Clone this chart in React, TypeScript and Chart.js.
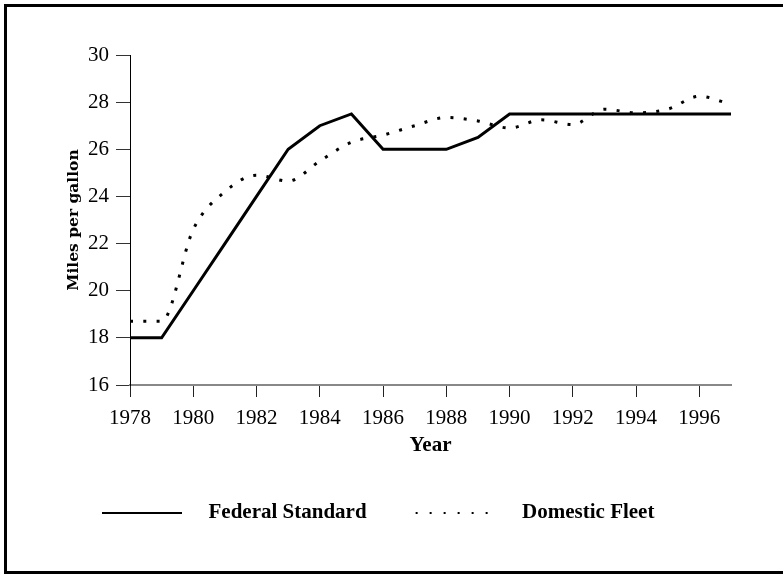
import React, { useEffect, useRef } from "react";
import { Chart, registerables } from "chart.js";

Chart.register(...registerables);

const years = [1978, 1979, 1980, 1981, 1982, 1983, 1984, 1985, 1986, 1987, 1988, 1989, 1990, 1991, 1992, 1993, 1994, 1995, 1996, 1997];
const federalStandard = [18, 18, 20, 22, 24, 26, 27, 27.5, 26, 26, 26, 26.5, 27.5, 27.5, 27.5, 27.5, 27.5, 27.5, 27.5, 27.5];
const domesticFleet = [18.7, 18.7, 22.6, 24.2, 24.9, 24.65, 25.5, 26.3, 26.6, 27.0, 27.35, 27.2, 26.9, 27.25, 27.05, 27.7, 27.55, 27.7, 28.25, 27.9];
const xTickLabels = [1978, 1980, 1982, 1984, 1986, 1988, 1990, 1992, 1994, 1996];
const yTickLabels = [16, 18, 20, 22, 24, 26, 28, 30];
const seriesNames = ["Federal Standard", "Domestic Fleet"];

const SERIF = "'Liberation Serif', 'Times New Roman', serif";

function makeLegendSample(dotted: boolean): HTMLCanvasElement {
  const c = document.createElement("canvas");
  c.width = 101;
  c.height = 5;
  const ctx = c.getContext("2d")!;
  ctx.fillStyle = "#000";
  if (dotted) {
    for (let i = 0; i < 6; i++) ctx.fillRect(5 + i * 14, 2, 2, 2);
  } else {
    ctx.fillRect(5, 2, 80, 2);
  }
  return c;
}

const borderPlugin = {
  id: "frameBorder",
  beforeDraw(chart: any) {
    const ctx = chart.ctx;
    ctx.save();
    ctx.fillStyle = "#fff";
    ctx.fillRect(0, 0, chart.width, chart.height);
    ctx.strokeStyle = "#000";
    ctx.lineWidth = 3;
    ctx.strokeRect(5.5, 5.5, 783, 567);
    ctx.restore();
  },
};

export default function App() {
  const ref = useRef<HTMLCanvasElement>(null);
  useEffect(() => {
    document.body.style.margin = "0";
    const samples = [makeLegendSample(false), makeLegendSample(true)];
    Chart.defaults.font.family = SERIF;
    Chart.defaults.color = "#000";
    const chart = new Chart(ref.current!, {
      type: "line",
      data: {
        datasets: [
          {
            label: seriesNames[0],
            data: years.map((x, i) => ({ x, y: federalStandard[i] })),
            borderColor: "#000",
            borderWidth: 3,
            pointRadius: 0,
            tension: 0,
            fill: false,
          },
          {
            label: seriesNames[1],
            data: years.map((x, i) => ({ x, y: domesticFleet[i] })),
            borderColor: "#000",
            borderWidth: 3,
            borderDash: [3, 10.3],
            pointRadius: 0,
            cubicInterpolationMode: "monotone",
            fill: false,
          },
        ],
      },
      options: {
        responsive: false,
        animation: false,
        events: [],
        layout: { padding: { left: 53, right: 52, top: 55, bottom: 41 } },
        plugins: {
          tooltip: { enabled: false },
          legend: {
            position: "bottom",
            align: "start",
            labels: {
              usePointStyle: true,
              pointStyleWidth: 101,
              padding: 44,
              color: "#000",
              font: { family: SERIF, size: 21, weight: "bold" },
              generateLabels: (ch: any) =>
                ch.data.datasets.map((ds: any, i: number) => ({
                  text: ds.label,
                  pointStyle: samples[i],
                  fillStyle: "transparent",
                  strokeStyle: "transparent",
                  lineWidth: 0,
                  hidden: false,
                  datasetIndex: i,
                  fontColor: "#000",
                })),
            },
          },
        },
        scales: {
          x: {
            type: "linear",
            min: years[0],
            max: years[years.length - 1],
            afterBuildTicks: (s: any) => {
              s.ticks = xTickLabels.map((v) => ({ value: v }));
            },
            afterFit: (s: any) => {
              s.height = 73;
            },
            ticks: {
              font: { family: SERIF, size: 21 },
              color: "#000",
              padding: 9,
              maxRotation: 0,
              autoSkip: false,
              callback: (v: any) => String(v),
            },
            grid: { display: true, drawOnChartArea: false, drawTicks: true, tickLength: 12, color: "#222", lineWidth: 1 },
            border: { display: true, color: "#888", width: 2 },
            title: { display: true, text: "Year", font: { family: SERIF, size: 21, weight: "bold" }, color: "#000", padding: 0 },
          },
          y: {
            type: "linear",
            min: 16,
            max: 30,
            afterBuildTicks: (s: any) => {
              s.ticks = yTickLabels.map((v) => ({ value: v }));
            },
            afterFit: (s: any) => {
              s.width = 77;
            },
            ticks: { font: { family: SERIF, size: 21 }, color: "#000", padding: 7, callback: (v: any) => String(v) },
            grid: { display: true, drawOnChartArea: false, drawTicks: true, tickLength: 14, color: "#333", lineWidth: 1 },
            border: { display: true, color: "#000", width: 1 },
            title: {
              display: true,
              text: "Miles per gallon",
              color: "#000",
              font: { family: "'DejaVu Serif', serif", size: 15.5, weight: "bold" },
              padding: { top: 12, bottom: 0 },
            },
          },
        },
      },
      plugins: [borderPlugin],
    } as any);
    return () => chart.destroy();
  }, []);
  return (
    <div style={{ width: 783, height: 574 }}>
      <canvas ref={ref} width={783} height={574} style={{ display: "block" }} />
    </div>
  );
}
